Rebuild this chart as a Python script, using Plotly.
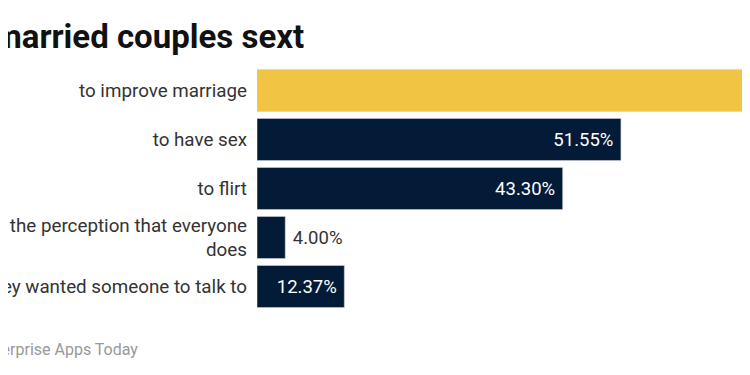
import plotly.graph_objects as go

categories = [
    "to improve marriage",
    "to have sex",
    "to flirt",
    "because of the perception that everyone<br>does",
    "because they wanted someone to talk to",
]
values = [80.41, 51.55, 43.30, 4.00, 12.37]
colors = ["#F2C443", "#031B36", "#031B36", "#031B36", "#031B36"]
text_pos = ["inside", "inside", "inside", "outside", "inside"]
text_labels = [
    ("\u00a0%.2f%%" % v) if p == "outside" else ("%.2f%%\u00a0" % v)
    for v, p in zip(values, text_pos)
]

# page offset (browser body margin)
OFF = 8
W, H = 750, 375 - 2 * OFF
L, T = 257 - OFF, 66 - OFF
R = W - (750 - OFF - L) + 0  # plot area reaches the window's right edge and beyond
R = 0
B = H - (311 - OFF)
pw, ph = W - L - R, H - T - B
px_per_unit = 7.06
x_max = pw / px_per_unit

def px_to_paper_x(page_px):
    return (page_px - OFF - L) / pw

def px_to_paper_y(page_py):
    return 1 - (page_py - OFF - T) / ph

fig = go.Figure(go.Bar(
    x=values,
    y=categories,
    orientation="h",
    marker=dict(color=colors, line=dict(color="#D0D4DA", width=0.6)),
    text=text_labels,
    textposition=text_pos,
    insidetextanchor="end",
    insidetextfont=dict(color="white", size=18.5, family="Roboto"),
    outsidetextfont=dict(color="#333333", size=18.5, family="Roboto"),
    cliponaxis=True,
    width=0.86,
))

fig.update_layout(
    width=W, height=H,
    margin=dict(l=L, r=R, t=T, b=B, autoexpand=False),
    paper_bgcolor="white", plot_bgcolor="white",
    showlegend=False,
    font=dict(family="Roboto", color="#333333"),
    xaxis=dict(range=[0, x_max], visible=False, fixedrange=True),
    yaxis=dict(autorange="reversed", showgrid=False, zeroline=False,
               showline=False, ticks="", automargin=False,
               ticklabelstandoff=9,
               tickfont=dict(size=18.8, family="Roboto", color="#333333")),
    annotations=[
        dict(text="<b>Why married couples sext</b>", xref="paper", yref="paper",
             x=px_to_paper_x(306), y=px_to_paper_y(37), xanchor="right", yanchor="middle",
             showarrow=False, font=dict(size=33, family="Roboto", color="#111111")),
        dict(text="Source: Enterprise Apps Today", xref="paper", yref="paper",
             x=px_to_paper_x(140), y=px_to_paper_y(349), xanchor="right", yanchor="middle",
             showarrow=False, font=dict(size=16, family="Roboto", color="#999999")),
    ],
)

fig.write_html("out.html", config={"displayModeBar": False})
